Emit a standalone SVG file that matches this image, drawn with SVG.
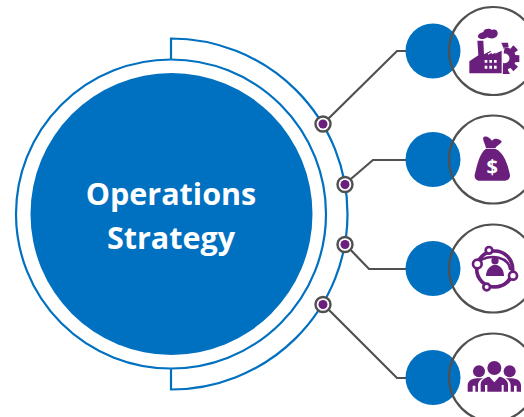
<svg xmlns="http://www.w3.org/2000/svg" width="524" height="417" viewBox="0 0 524 417">
<style>
.blue{fill:#0070c0}
.ring{fill:none;stroke:#0070c0;stroke-width:2.200}
.conn{fill:none;stroke:#505050;stroke-width:2.200}
.halo{fill:#fff;stroke:#505050;stroke-width:2.400}
.dot{fill:#6b1f7c}
.shell{fill:none;stroke:#505050;stroke-width:2.200}
.ico{fill:#6b1f7c}
.cut{fill:#fff}
.title{font-family:"Open Sans",sans-serif;font-weight:700;font-size:30.500px;fill:#fff;text-anchor:middle}
</style>
<g id="hub">
<path class="ring" d="M171 59.500A155 154.500 0 1 1 171 368.500A155 154.500 0 1 1 171 59.500"/>
<path class="ring" d="M171 59V38.500A176.500 175.500 0 0 1 171 389.500V369"/>
<circle class="blue" cx="171.500" cy="214" r="141"/>
<text class="title" x="171" y="204.500">Operations</text>
<text class="title" x="171" y="248.500">Strategy</text>
</g>
<g id="connectors">
<path class="conn" d="M323 124L397 51H406"/>
<path class="conn" d="M345 184L373 160H406"/>
<path class="conn" d="M345 244L369 269H406"/>
<path class="conn" d="M323 304L397 378H406"/>
</g>
<g id="dot-1"><circle class="halo" cx="323" cy="124" r="7.500"/><circle class="dot" cx="323" cy="124" r="4.500"/></g>
<g id="dot-2"><circle class="halo" cx="345" cy="184.500" r="7.500"/><circle class="dot" cx="345" cy="184.500" r="4.500"/></g>
<g id="dot-3"><circle class="halo" cx="345" cy="244.500" r="7.500"/><circle class="dot" cx="345" cy="244.500" r="4.500"/></g>
<g id="dot-4"><circle class="halo" cx="323" cy="304.500" r="7.500"/><circle class="dot" cx="323" cy="304.500" r="4.500"/></g>
<g id="node-factory">
<circle class="blue" cx="433" cy="51" r="27.500"/>
<circle class="shell" cx="493" cy="51" r="44"/>
<g transform="translate(400 0) scale(.33333)">
<circle cx="314" cy="175" r="24" fill="none" stroke="#6b1f7c" stroke-width="19"/>
<path class="ico" d="M304 128h20l2 14h-24zM340 136l14 14-12 10-12-12zM358 166v20l-16 1v-22zM354 200l-14 14-10-12 12-12zM324 222h-16v-16h16z"/>
<path class="cut" d="M270 145L305 130L312 150L307 225L200 225L200 175Z"/>
<path class="ico" d="M208 220V184L235 166L232 122H250L252 163L272 152L276 163L305 150V220Z"/>
<path fill="none" stroke="#fff" stroke-width="3.500" d="M264 163L290 147L288 158L314 146"/>
<path class="ico" d="M310 222V197L322 207L330 222Z"/>
<path class="ico" d="M234 112C232 100 246 98 250 96C252 84 270 84 276 90C290 84 296 98 292 106C290 116 270 118 262 112C254 118 240 120 234 112Z"/>
<path class="cut" d="M254 180h8v8h-8zM268 180h8v8h-8zM282 180h8v8h-8zM254 197h8v9h-8zM268 197h8v9h-8zM282 197h8v9h-8z"/>
</g>
</g>
<g id="node-money">
<circle class="blue" cx="433" cy="159.500" r="27.500"/>
<circle class="shell" cx="493" cy="159.500" r="44"/>
<g transform="translate(400 110) scale(.33333)">
<path class="ico" d="M249 84C256 74 268 82 276 92C282 84 296 84 305 94C304 102 292 106 286 114H258C256 104 250 96 249 84Z"/>
<path class="ico" d="M258 116H286C312 128 322 160 330 195C331 206 322 212 315 212H240C230 212 223 206 224 195C232 160 240 128 258 116Z"/>
<text x="277" y="192" font-family="'Open Sans',sans-serif" font-weight="700" font-size="60" fill="#fff" text-anchor="middle">$</text>
</g>
</g>
<g id="node-network">
<circle class="blue" cx="433" cy="268.500" r="27.500"/>
<circle class="shell" cx="493" cy="268.500" r="44"/>
<g transform="translate(400 220) scale(.33333)">
<circle cx="284" cy="147" r="54" fill="none" stroke="#6b1f7c" stroke-width="11"/>
<path d="M236 126A52 36 0 0 1 330 150M332 176A50 36 0 0 1 244 184" fill="none" stroke="#6b1f7c" stroke-width="8"/>
<circle cx="285" cy="122" r="11" class="ico"/>
<path class="ico" d="M258 168C258 146 274 134 285 134C298 134 312 146 312 168Z"/>
<circle cx="267" cy="91" r="10" fill="#fff" stroke="#6b1f7c" stroke-width="8"/>
<circle cx="232" cy="132" r="13" fill="#fff" stroke="#6b1f7c" stroke-width="8"/>
<circle cx="339" cy="167" r="12" fill="#fff" stroke="#6b1f7c" stroke-width="8"/>
<circle cx="260" cy="201" r="10" fill="#fff" stroke="#6b1f7c" stroke-width="8"/>
</g>
</g>
<g id="node-people">
<circle class="blue" cx="433" cy="377.500" r="27.500"/>
<circle class="shell" cx="493" cy="377.500" r="44"/>
<g transform="translate(400 320) scale(.33333)">
<circle class="ico" cx="237" cy="154" r="18"/>
<circle class="ico" cx="283" cy="144" r="21"/>
<circle class="ico" cx="329" cy="154" r="18"/>
<path class="ico" d="M203 215V195C205 180 218 176 230 175H250C238 180 234 188 234 198V215H226V197H218V215Z"/>
<path class="ico" d="M332 215V198C332 188 328 180 316 175H336C348 176 361 180 363 195V215H350V197H342V215Z"/>
<path class="ico" d="M242 215V192C244 178 256 172 268 170L283 187L298 170C310 172 322 178 324 192V215H311V195H305V215H262V195H255V215Z"/>
</g>
</g>
</svg>
